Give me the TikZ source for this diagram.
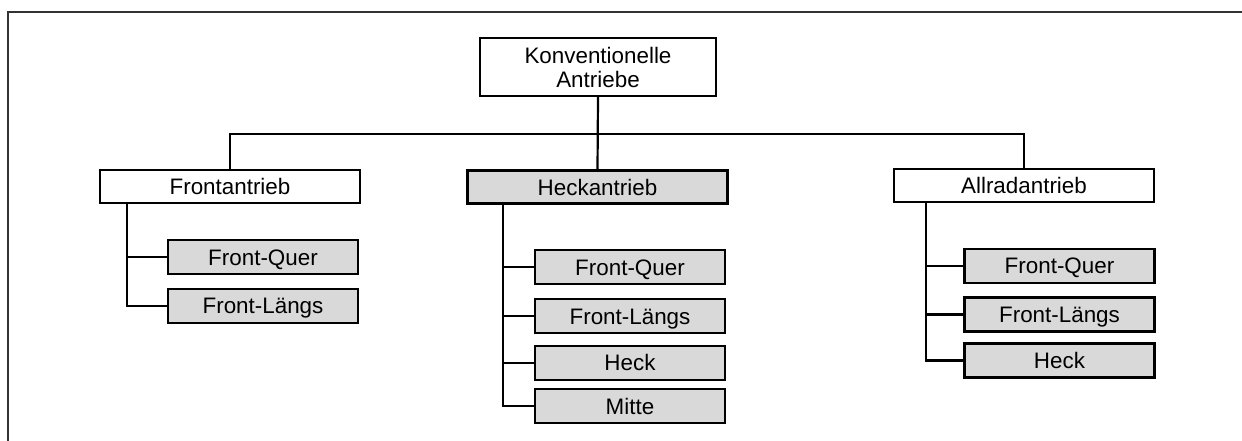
\documentclass[tikz,border=0pt]{standalone}
\usepackage{fontspec}
\setmainfont{Liberation Sans}
\begin{document}
\begin{tikzpicture}[x=1pt,y=-1pt,
  base/.style={draw=black, line width=2.2pt, inner sep=0pt, font=\fontsize{22.4}{24}\selectfont, text height=16pt, text depth=0pt},
  rootbox/.style={base, fill=white, minimum width=236pt, minimum height=58pt, align=center, text height=, text depth=},
  lvl/.style={base, minimum width=260pt, minimum height=33pt},
  leaf/.style={base, fill=boxgray, minimum width=190pt, minimum height=34pt},
  conn/.style={line width=2.2pt, black}
]
\definecolor{boxgray}{RGB}{217,217,217}
\useasboundingbox (0,0) rectangle (1242,441);
\draw[line width=1.6pt, black!80] (8,441) -- (8,12) -- (1242,12);

\node[rootbox] (root) at (598,67) {Konventionelle\\Antriebe};

\node[lvl, fill=white] (fa) at (230,186.5) {Frontantrieb};
\node[lvl, fill=boxgray] (hk) at (597.5,187) {Heckantrieb};
\node[lvl, fill=white] (ar) at (1024,185.7) {Allradantrieb};

\node[leaf] (fa1) at (263,257.3) {Front-Quer};
\node[leaf] (fa2) at (263,305.7) {Front-Längs};

\node[leaf] (hk1) at (630,267.3) {Front-Quer};
\node[leaf] (hk2) at (630,316.2) {Front-Längs};
\node[leaf] (hk3) at (630,362.7) {Heck};
\node[leaf] (hk4) at (630,406) {Mitte};

\node[leaf] (ar1) at (1059.5,265.8) {Front-Quer};
\node[leaf] (ar2) at (1059.5,314.5) {Front-Längs};
\node[leaf] (ar3) at (1059.5,360.5) {Heck};

\draw[conn] (root.south) -- (hk.north);
\draw[conn] (fa.north) -- ++(0,-35) -| (ar.north);

\draw[conn] ([xshift=28pt]fa.south west) |- (fa1.west);
\draw[conn] ([xshift=28pt]fa.south west) |- (fa2.west);

\draw[conn] ([xshift=36.6pt]hk.south west) |- (hk1.west);
\draw[conn] ([xshift=36.6pt]hk.south west) |- (hk2.west);
\draw[conn] ([xshift=36.6pt]hk.south west) |- (hk3.west);
\draw[conn] ([xshift=36.6pt]hk.south west) |- (hk4.west);

\draw[conn] ([xshift=33pt]ar.south west) |- (ar1.west);
\draw[conn] ([xshift=33pt]ar.south west) |- (ar2.west);
\draw[conn] ([xshift=33pt]ar.south west) |- (ar3.west);
\end{tikzpicture}
\end{document}
